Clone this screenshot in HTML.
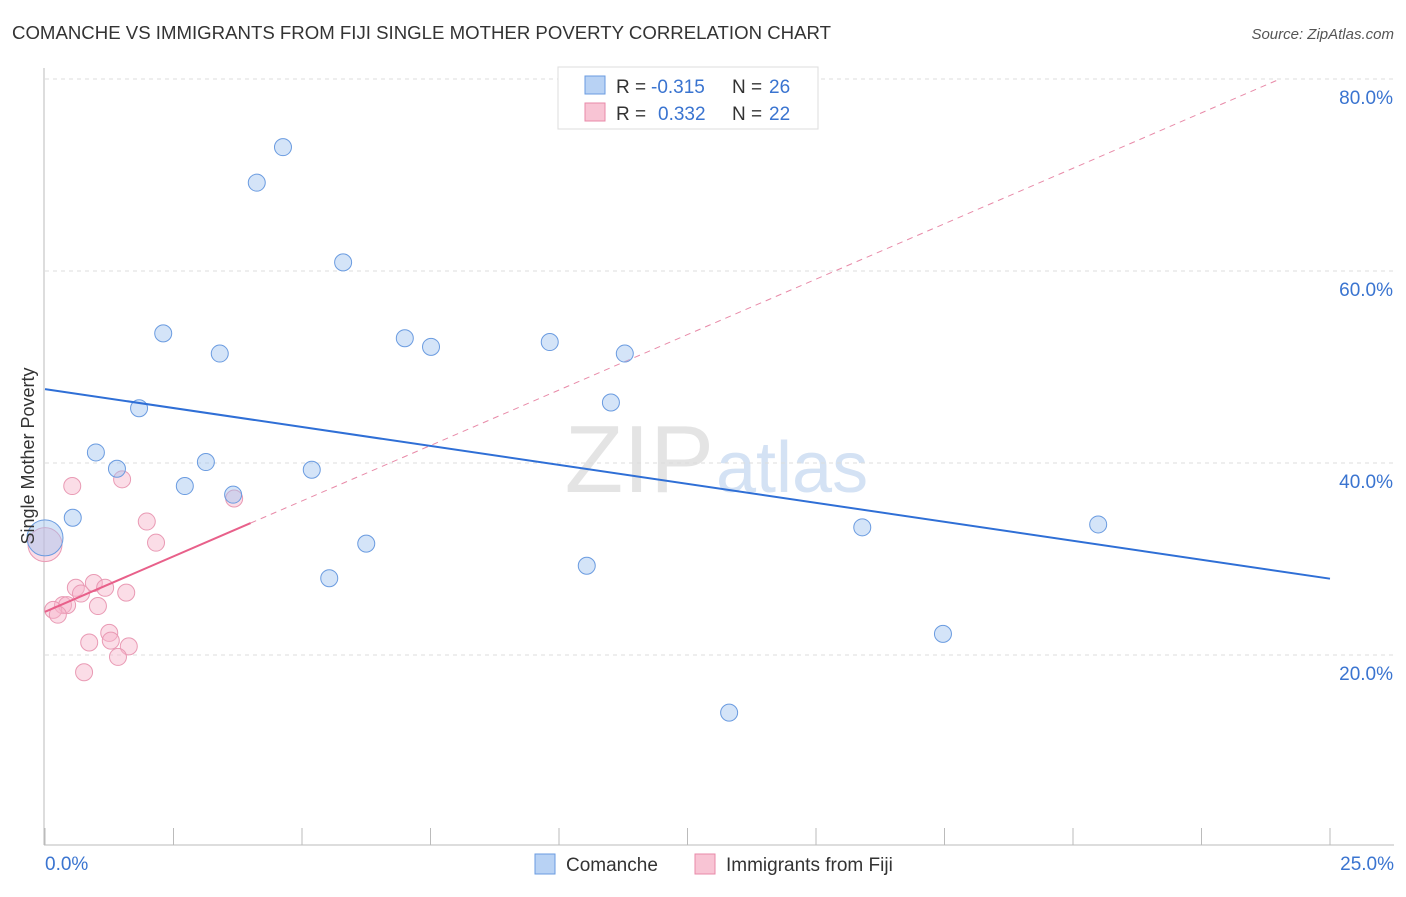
<!DOCTYPE html>
<html><head><meta charset="utf-8"><style>
body{margin:0;background:#fff;font-family:"Liberation Sans",sans-serif}
svg text{font-family:"Liberation Sans",sans-serif}
</style></head><body>
<svg id="chart" width="1406" height="892" xmlns="http://www.w3.org/2000/svg">
<text x="12" y="39" font-size="18" fill="#333" textLength="819" lengthAdjust="spacingAndGlyphs">COMANCHE VS IMMIGRANTS FROM FIJI SINGLE MOTHER POVERTY CORRELATION CHART</text>
<text x="1394" y="39" font-size="15" fill="#555" font-style="italic" text-anchor="end">Source: ZipAtlas.com</text>
<text x="714" y="492" font-size="96" fill="#e4e4e4" text-anchor="end" font-family="Liberation Serif">ZIP</text>
<text x="716" y="492" font-size="72" fill="#d4e2f4">atlas</text>
<g id="grid"></g>
<g id="axes"></g>
<g id="marks"></g>
<text transform="translate(34,456) rotate(-90)" font-size="18" fill="#333" text-anchor="middle">Single Mother Poverty</text>
<g>
<rect x="558" y="67" width="260" height="62" fill="#fff" stroke="#ddd"/>
<rect x="585" y="76" width="20" height="18" fill="#b8d2f4" stroke="#6a9be0"/>
<rect x="585" y="103" width="20" height="18" fill="#f8c4d4" stroke="#e88aa8"/>
<text x="616" y="93" font-size="19" fill="#333">R =</text>
<text x="651" y="93" font-size="19" fill="#3a74d0">-0.315</text>
<text x="732" y="93" font-size="19" fill="#333">N =</text>
<text x="769" y="93" font-size="19" fill="#3a74d0">26</text>
<text x="616" y="120" font-size="19" fill="#333">R =</text>
<text x="658" y="120" font-size="19" fill="#3a74d0">0.332</text>
<text x="732" y="120" font-size="19" fill="#333">N =</text>
<text x="769" y="120" font-size="19" fill="#3a74d0">22</text>
</g>
<g>
<rect x="535" y="854" width="20" height="20" fill="#b8d2f4" stroke="#6a9be0"/>
<text x="566" y="871" font-size="19" fill="#333">Comanche</text>
<rect x="695" y="854" width="20" height="20" fill="#f8c4d4" stroke="#e88aa8"/>
<text x="726" y="871" font-size="19" fill="#333">Immigrants from Fiji</text>
</g>
</svg>
<script>
const yTicks=[20,40,60,80];
const yTickLabels=["20.0%","40.0%","60.0%","80.0%"];
const xTicks=[0,2.5,5,7.5,10,12.5,15,17.5,20,22.5,25];
const comancheX=[4.63,4.12,5.80,2.30,3.40,7.00,7.51,9.82,11.28,1.83,11.01,0.99,1.40,3.13,2.72,3.66,5.19,0.54,0,6.25,5.53,10.54,15.90,20.49,17.47,13.31];
const comancheY=[72.9,69.2,60.9,53.5,51.4,53.0,52.1,52.6,51.4,45.7,46.3,41.1,39.4,40.1,37.6,36.7,39.3,34.3,32.2,31.6,28.0,29.3,33.3,33.6,22.2,14.0];
const fijiX=[0.53,1.50,3.68,1.98,2.16,0,0.60,0.95,0.70,1.17,1.58,0.35,0.43,0.16,0.25,1.03,1.25,0.86,1.28,1.63,1.42,0.76];
const fijiY=[37.6,38.3,36.3,33.9,31.7,31.5,27.0,27.5,26.4,27.0,26.5,25.2,25.2,24.7,24.2,25.1,22.3,21.3,21.5,20.9,19.8,18.2];
const blueTrend=[47.7,-0.79];
const pinkTrend=[24.5,2.31];
const NS="http://www.w3.org/2000/svg";
const X=v=>45+v/25*1285, Y=v=>847-v/20*192;
function mk(p,t,a){const e=document.createElementNS(NS,t);for(const k in a)e.setAttribute(k,a[k]);p.appendChild(e);return e;}
const grid=document.getElementById('grid'),axes=document.getElementById('axes'),marks=document.getElementById('marks');
yTicks.forEach((t,i)=>{
 const l=mk(grid,'line',{x1:45,x2:1394,y1:Y(t),y2:Y(t),stroke:'#ddd','stroke-dasharray':'4,4'});
 
 
 const tx=mk(grid,'text',{x:1393,y:Y(t)+25,'font-size':19,fill:'#3a74d0','text-anchor':'end'});
 tx.textContent=yTickLabels[i];
 
 
});
const ax=mk(axes,'line',{x1:44,x2:44,y1:68,y2:845,stroke:'#bbb'});


const bx=mk(axes,'line',{x1:44,x2:1394,y1:845,y2:845,stroke:'#bbb'});


xTicks.forEach(t=>{const l=mk(axes,'line',{x1:X(t),x2:X(t),y1:828,y2:845,stroke:'#bbb'});
 
 });
const t0=mk(axes,'text',{x:45,y:870,'font-size':19,fill:'#3a74d0'});t0.textContent='0.0%';


const t1=mk(axes,'text',{x:1394,y:870,'font-size':19,fill:'#3a74d0','text-anchor':'end'});t1.textContent='25.0%';


const pe=(80-pinkTrend[0])/pinkTrend[1];
const pd=mk(marks,'line',{x1:X(4),y1:Y(pinkTrend[0]+4*pinkTrend[1]),x2:X(pe),y2:Y(80),stroke:'#e88aa8','stroke-dasharray':'6,5','stroke-width':1});


fijiX.forEach((x,i)=>{const c=mk(marks,'circle',{cx:X(x),cy:Y(fijiY[i]),r:x===0?17:8.5,fill:'rgba(246,180,202,0.45)',stroke:'#e99ab4'});
 
 });
comancheX.forEach((x,i)=>{const c=mk(marks,'circle',{cx:X(x),cy:Y(comancheY[i]),r:x===0?18:8.5,fill:'rgba(160,196,240,0.45)',stroke:'#6a9be0'});
 
 });
const bt=mk(marks,'line',{x1:X(0),y1:Y(blueTrend[0]),x2:X(25),y2:Y(blueTrend[0]+25*blueTrend[1]),stroke:'#2f6fd6','stroke-width':2});


const pt=mk(marks,'line',{x1:X(0),y1:Y(pinkTrend[0]),x2:X(4),y2:Y(pinkTrend[0]+4*pinkTrend[1]),stroke:'#e8608a','stroke-width':2});


</script>
</body></html>
